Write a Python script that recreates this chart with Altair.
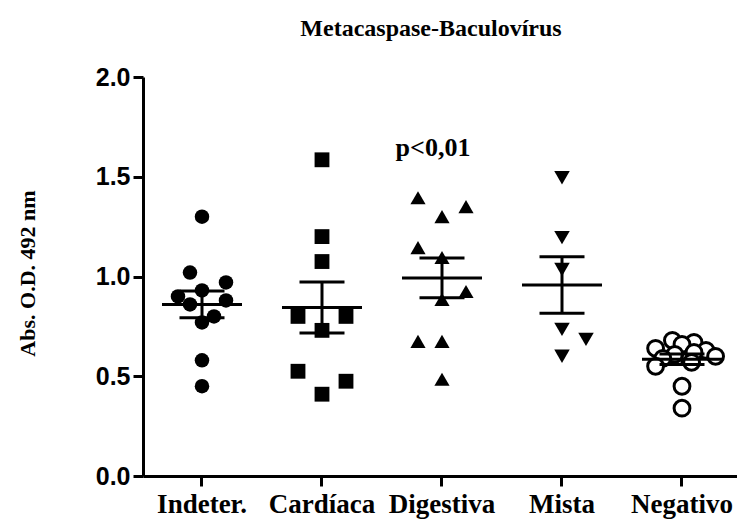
import altair as alt
import pandas as pd

categories = ["Indeter.", "Cardíaca", "Digestiva", "Mista", "Negativo"]

indeter = [1.30, 1.02, 0.97, 0.93, 0.90, 0.88, 0.86, 0.80, 0.77, 0.58, 0.45]
indeter_col = [0, -0.5, 1, 0, -1, 1, -0.5, 0.5, 0, 0, 0]
cardiaca = [1.585, 1.20, 1.075, 0.80, 0.80, 0.73, 0.525, 0.475, 0.41]
cardiaca_col = [0, 0, 0, -1, 1, 0, -1, 1, 0]
digestiva = [1.395, 1.35, 1.30, 1.145, 1.095, 0.925, 0.885, 0.675, 0.675, 0.485]
digestiva_col = [-1, 1, 0, -1, 0, 1, 0, -1, 0, 0]
mista = [1.495, 1.195, 1.035, 0.735, 0.685, 0.60]
mista_col = [0, 0, 0, 0, 1, 0]
negativo = [0.68, 0.67, 0.66, 0.64, 0.63, 0.62, 0.61, 0.60, 0.59, 0.57, 0.55, 0.45, 0.34]
negativo_col = [-0.4, 0.5, 0.0, -1.1, 1.0, 0.5, -0.3, 1.4, -0.8, 0.4, -1.1, 0, 0]

shapes = ["circle", "square", "triangle-up", "triangle-down", "circle"]
fills = ["black", "black", "black", "black", "white"]
sizes = [210, 250, 230, 230, 120]

annot_text = ["p<0,01"]
annot_cat = ["Digestiva"]
annot_y = [1.645]

rows = []
for cat, vals, cols in zip(categories,
                           [indeter, cardiaca, digestiva, mista, negativo],
                           [indeter_col, cardiaca_col, digestiva_col, mista_col, negativo_col]):
    for v, c in zip(vals, cols):
        rows.append({"grupo": cat, "valor": v, "col": c})
df = pd.DataFrame(rows)
annot = pd.DataFrame({"grupo": annot_cat, "valor": annot_y, "texto": annot_text})

xscale = alt.Scale(domain=categories, paddingInner=0.5, paddingOuter=0.225, align=0.537)
yscale = alt.Scale(domain=[0, 2], nice=False, zero=True)

xaxis = alt.Axis(title=None, labelAngle=0, labelFont="Liberation Serif", labelFontWeight="bold",
                 labelFontSize=27, labelPadding=5, labelColor="black")
yaxis = alt.Axis(title="Abs. O.D. 492 nm", values=[0, 0.5, 1.0, 1.5, 2.0], format=".1f",
                 labelFont="Liberation Sans", labelFontWeight="bold", labelFontSize=25,
                 labelColor="black", labelPadding=3, grid=False,
                 titleFont="Liberation Serif", titleFontWeight="bold", titleFontSize=22,
                 titleColor="black", titleAngle=-90, titleX=-116, titleY=196,
                 titleAlign="center", titleBaseline="middle")

base = alt.Chart(df)

points = base.mark_point(filled=False, opacity=1, stroke="black").encode(
    x=alt.X("grupo:N", scale=xscale, axis=xaxis, sort=categories),
    xOffset=alt.XOffset("col:Q", scale=alt.Scale(domain=[-1.25, 1.25])),
    y=alt.Y("valor:Q", scale=yscale, axis=yaxis),
    shape=alt.Shape("grupo:N", scale=alt.Scale(domain=categories, range=shapes), legend=None),
    fill=alt.Fill("grupo:N", scale=alt.Scale(domain=categories, range=fills), legend=None),
    strokeWidth=alt.condition(alt.datum.grupo == "Negativo", alt.value(3), alt.value(0)),
    size=alt.Size("grupo:N", scale=alt.Scale(domain=categories, range=sizes), legend=None),
)

mean_tick = base.mark_tick(color="black", size=80, thickness=3, opacity=1).encode(
    x=alt.X("grupo:N", scale=xscale, sort=categories),
    y=alt.Y("mean(valor):Q", scale=yscale),
)

errbar = base.mark_errorbar(extent="stderr", ticks={"opacity": 1, "color": "black"},
                            size=45, thickness=3, color="black", opacity=1).encode(
    x=alt.X("grupo:N", scale=xscale, sort=categories),
    y=alt.Y("valor:Q", scale=yscale, title="Abs. O.D. 492 nm"),
)

text = alt.Chart(annot).mark_text(font="Liberation Serif", fontWeight="bold", fontSize=26,
                                  color="black", dx=-9, baseline="middle").encode(
    x=alt.X("grupo:N", scale=xscale, sort=categories),
    y=alt.Y("valor:Q", scale=yscale),
    text="texto:N",
)

chart = alt.layer(points, errbar, mean_tick, text).properties(
    width=594, height=399,
    title=alt.Title("Metacaspase-Baculovírus", font="Liberation Serif", fontSize=24,
                    fontWeight="bold", color="black", offset=24, dx=-9, frame="group",
                    anchor="middle"),
    autosize=alt.AutoSizeParams(type="none"),
    padding={"left": 143, "top": 77, "right": 0, "bottom": 48},
).configure_axis(
    domainColor="black", domainWidth=3, tickColor="black", tickWidth=3, tickSize=10,
).configure_view(stroke=None)

chart.save("out.html", embed_options={"renderer": "svg", "actions": False})
